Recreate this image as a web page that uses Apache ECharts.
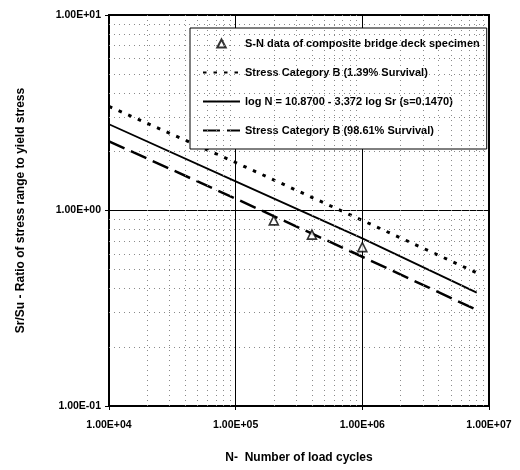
<!DOCTYPE html>
<html><head><meta charset="utf-8">
<script src="https://cdn.jsdelivr.net/npm/echarts@6/dist/echarts.min.js"></script>
<style>html,body{margin:0;padding:0;background:#fff}#c{width:520px;height:470px}</style>
</head><body><div id="c"></div>
<script>
// ---- data ----
const cycles = [1e4, 1e5, 1e6, 8e6];
const survival139 = [3.41, 1.76, 0.89, 0.48];   // dotted
const meanFit = [2.76, 1.41, 0.72, 0.38];       // solid
const survival9861 = [2.26, 1.15, 0.58, 0.31];  // dashed
const specimenN = [2.0e5, 4.0e5, 1.0e6];
const specimenRatio = [0.89, 0.753, 0.65];
const xMinorGrid = [2e4,3e4,4e4,5e4,6e4,7e4,8e4,9e4,2e5,3e5,4e5,5e5,6e5,7e5,8e5,9e5,2e6,3e6,4e6,5e6,6e6,7e6,8e6,9e6];
const yMinorGrid = [0.2,0.3,0.4,0.5,0.6,0.7,0.8,0.9,2,3,4,5,6,7,8,9];
const names = [
  'S-N data of composite bridge deck specimen',
  'Stress Category B (1.39% Survival)',
  'log N = 10.8700 - 3.372 log Sr (s=0.1470)',
  'Stress Category B (98.61% Survival)'
];
const xName = 'N-  Number of load cycles';
const yName = 'Sr/Su - Ratio of stress range to yield stress';

const FONT = '"Liberation Sans", Arial, sans-serif';
function sci(v){
  const e = Math.round(Math.log10(v));
  const m = v / Math.pow(10, e);
  return m.toFixed(2) + 'E' + (e < 0 ? '-' : '+') + String(Math.abs(e)).padStart(2, '0');
}
const pairs = (xs, ys) => xs.map((x, i) => [x, ys[i]]);
const TRI = 'path://M0,-1L0.95,0.8L-0.95,0.8Z';

const chart = echarts.init(document.getElementById('c'), null, {renderer: 'canvas'});
chart.setOption({
  animation: false,
  backgroundColor: '#fff',
  grid: {left: 109, right: 31, top: 15, bottom: 64, show: true, borderColor: '#000', borderWidth: 2, backgroundColor: 'transparent'},
  legend: {
    data: [
      {name: names[0], icon: TRI},
      {name: names[1], itemStyle: {opacity: 0}},
      {name: names[2], itemStyle: {opacity: 0}},
      {name: names[3], itemStyle: {opacity: 0}}
    ],
    orient: 'vertical', left: 190, top: 28, symbolKeepAspect: true,
    padding: [10, 7, 13, 12], itemWidth: 37, itemHeight: 8, itemGap: 18,
    backgroundColor: '#fff', borderColor: '#000', borderWidth: 1,
    textStyle: {fontFamily: FONT, fontSize: 11, fontWeight: 'bold', color: '#000'},
    selectedMode: false
  },
  xAxis: {
    type: 'log', logBase: 10, min: 1e4, max: 1e7,
    name: xName, nameLocation: 'middle', nameGap: 46,
    nameTextStyle: {fontFamily: FONT, fontSize: 12, fontWeight: 'bold', color: '#000'},
    axisLine: {lineStyle: {color: '#000', width: 2}},
    axisTick: {show: true, length: 4, lineStyle: {color: '#000', width: 1}},
    axisLabel: {formatter: sci, margin: 14, fontFamily: FONT, fontSize: 10.5, fontWeight: 'bold', color: '#000'},
    splitLine: {show: true, lineStyle: {color: '#000', width: 1}}
  },
  yAxis: {
    type: 'log', logBase: 10, min: 0.1, max: 10,
    name: yName, nameLocation: 'middle', nameGap: 82, nameRotate: 90,
    nameTextStyle: {fontFamily: FONT, fontSize: 12, fontWeight: 'bold', color: '#000'},
    axisLine: {lineStyle: {color: '#000', width: 2}},
    axisTick: {show: true, length: 4, lineStyle: {color: '#000', width: 1}},
    axisLabel: {formatter: sci, margin: 8, fontFamily: FONT, fontSize: 10.5, fontWeight: 'bold', color: '#000'},
    splitLine: {show: true, lineStyle: {color: '#000', width: 1}}
  },
  series: [
    {
      name: 'minor-grid', type: 'line', data: [], silent: true,
      markLine: {
        silent: true, symbol: 'none', label: {show: false}, animation: false,
        lineStyle: {color: '#8a8a8a', width: 1, type: [1, 4]},
        data: xMinorGrid.map(v => ({xAxis: v})).concat(yMinorGrid.map(v => ({yAxis: v})))
      }
    },
    {
      name: names[0], type: 'scatter', data: pairs(specimenN, specimenRatio),
      symbol: 'triangle', symbolSize: 9, z: 5,
      itemStyle: {color: '#fff', borderColor: '#000', borderWidth: 1.6}
    },
    {
      name: names[1], type: 'line', data: pairs(cycles, survival139), showSymbol: false, symbol: 'none',
      lineStyle: {color: '#000', width: 3, type: [3.5, 7]}, itemStyle: {color: '#000'}
    },
    {
      name: names[2], type: 'line', data: pairs(cycles, meanFit), showSymbol: false, symbol: 'none',
      lineStyle: {color: '#000', width: 1.8, type: 'solid'}, itemStyle: {color: '#000'}
    },
    {
      name: names[3], type: 'line', data: pairs(cycles, survival9861), showSymbol: false, symbol: 'none',
      lineStyle: {color: '#000', width: 2.5, type: [17, 7]}, itemStyle: {color: '#000'}
    }
  ]
});
</script></body></html>
